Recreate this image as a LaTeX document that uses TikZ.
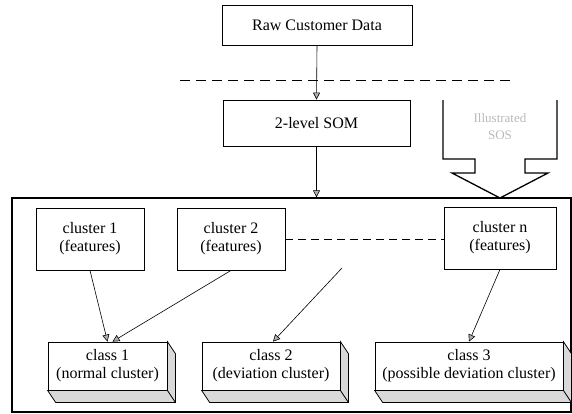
\documentclass[tikz,border=0pt]{standalone}
\usepackage{fontspec}
\setmainfont{Liberation Serif}
\usetikzlibrary{arrows.meta,calc}
\begin{document}
\begin{tikzpicture}[x=1pt,y=-1pt,
  txt/.style={font=\fontsize{16}{18}\selectfont},
  box/.style={draw,line width=0.8pt,inner sep=0pt,align=center,txt},
  slab/.style={draw,fill=white,line width=0.8pt,inner sep=0pt,align=center,txt},
  side/.style={draw,line width=0.8pt,fill=gray!30},
  frame/.style={draw,line width=1.3pt,inner sep=0pt},
  link/.style={line width=0.6pt,-{Triangle[length=7pt,width=7pt,fill=gray!60]}},
  guide/.style={line width=0.9pt,dash pattern=on 10pt off 6pt},
  tie/.style={line width=0.9pt,dash pattern=on 8pt off 5pt},
  callout/.style={line width=1.3pt,line join=miter}
]
\useasboundingbox (0,0) rectangle (572,413);

% upper chain
\node[box,minimum width=190pt,minimum height=40pt] (raw) at (317,25) {Raw Customer Data};
\node[box,minimum width=187pt,minimum height=46pt] (som) at (316.5,123) {2-level SOM};
\coordinate (gl) at (180,80);
\coordinate (gr) at (510,80);
\draw[guide] (gl) -- (gr);

% outer frame holding the clusters and classes
\node[frame,minimum width=559pt,minimum height=214pt] (frame) at (291.5,305) {};

% clusters
\node[box,minimum width=108pt,minimum height=62pt] (cl1) at (90,239) {cluster 1\\(features)};
\node[box,minimum width=108pt,minimum height=62pt] (cl2) at (231,239) {cluster 2\\(features)};
\node[box,minimum width=112pt,minimum height=62pt] (cln) at (500,238) {cluster n\\(features)};
\draw[tie] (cl2.east) -- (cln.west |- cl2.east);

% classes as raised slabs
\node[slab,minimum width=119pt,minimum height=48pt] (c1) at (107.5,366) {class 1\\(normal cluster)};
\node[slab,minimum width=138pt,minimum height=48pt] (c2) at (271,366) {class 2\\(deviation cluster)};
\node[slab,minimum width=188pt,minimum height=48pt] (c3) at (469,366) {class 3\\(possible deviation cluster)};
\foreach \n in {c1,c2,c3}{
  \draw[side] (\n.north east) -- ++(8,12) |- ($(\n.south west)+(8,12)$)
    -- (\n.south west) -- (\n.south east) -- cycle;
  \draw[line width=0.8pt] (\n.south east) -- ++(8,12);
}

% callout arrow feeding the frame
\draw[callout] (443,100) -- (443,159) -- (475,159) -- (475,173) -- (452,173)
  -- (500,198) -- (548,173) -- (525,173) -- (525,159) -- (557,159) -- (557,100);
\node[font=\fontsize{13}{17}\selectfont,text=gray!55,align=center] (note) at (500,127) {Illustrated\\SOS};

% connectors
\draw[link] (raw.south) -- (som.north);
\draw[link] (som.south) -- (som.south |- frame.north);
\draw[link] (cl1.south) -- (c1.north);
\draw[link] (cl2.south) -- ($(c1.north)+(5,0)$);
\coordinate (loose) at (342,268);
\draw[link] (loose) -- ($(c2.north)+(2,0)$);
\draw[link] (cln.south) -- (c3.north);
\end{tikzpicture}
\end{document}
